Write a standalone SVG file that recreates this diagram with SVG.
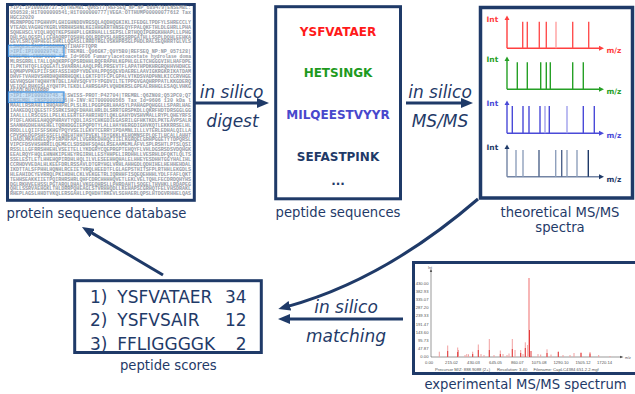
<svg xmlns="http://www.w3.org/2000/svg" width="635" height="394" viewBox="0 0 635 394">
<defs>
<style>
.lbl{font-family:"DejaVu Sans","Verdana",sans-serif;font-size:13.2px;fill:#1f3a68;text-anchor:middle}
.ital{font-family:"DejaVu Sans","Verdana",sans-serif;font-size:17px;font-style:italic;fill:#1f3a68;text-anchor:middle}
.box{fill:#fff;stroke:#1f3a68;stroke-width:3}
.db{font-family:"Liberation Mono","DejaVu Sans Mono",monospace;font-size:5px;font-weight:bold;fill:#959aa4}
.hl{fill:#9fcaf0;fill-opacity:0.55;stroke:#3d8fe0;stroke-width:1.2}
.pep{font-family:"DejaVu Sans","Verdana",sans-serif;font-size:12px;font-weight:bold;text-anchor:middle}
.sc{font-family:"DejaVu Sans","Verdana",sans-serif;font-size:17px;fill:#1f3a68}
.ax{fill:none;stroke-width:1.4}
.tl{font-family:"DejaVu Sans","Verdana",sans-serif;font-size:7.5px;font-weight:bold}
.conn{fill:none;stroke:#1f3a68;stroke-width:3}
.ex{font-family:"Liberation Sans","Arial",sans-serif;font-size:4.2px;fill:#555}
.pk{stroke:#f2a0a0;stroke-width:1}
.pkd{stroke:#e23a3a;stroke-width:1}
</style>
<marker id="ah" viewBox="0 0 12 10" refX="3" refY="5" markerWidth="12" markerHeight="10" markerUnits="userSpaceOnUse" orient="auto">
<path d="M0,0 L12,5 L0,10 z" fill="#1f3a68"/>
</marker>
</defs>
<rect width="635" height="394" fill="#fff"/>

<g id="node-database">
<rect class="box" x="7.5" y="4.5" width="186.8" height="195.8"/>
<g class="db">
<text x="10" y="9.1" textLength="181" lengthAdjust="spacingAndGlyphs">&gt;IPI:IPI00029737.5|TREMBL:Q96ST7|REFSEQ_NP:NP_689479|ENSEMBL:</text>
<text x="10" y="14" textLength="181" lengthAdjust="spacingAndGlyphs">050538;H1T000000541;H1T000000777|VEGA:OTTHUMP00000077612 Tax</text>
<text x="10" y="18.9">HGC32020</text>
<text x="10" y="23.8" textLength="181" lengthAdjust="spacingAndGlyphs">MERNPPDGTPGHHVPLGHIGHNDDVRGSQLAQDHQGKIKLIFEDGLTPDFYLSHRECCLY</text>
<text x="10" y="28.7" textLength="181" lengthAdjust="spacingAndGlyphs">VTEADLVAGHGYKGRLVRRHHSHNLKGIHHGKRTHNSEQYFPALQKFTHLDLGHRLLPHA</text>
<text x="10" y="33.6" textLength="181" lengthAdjust="spacingAndGlyphs">SQHEHSCLVIQLHQQTKEPSHHPLLGKRHALLLSEPSLLRTHQQIPGRGKHHAPLLLPHG</text>
<text x="10" y="38.5" textLength="181" lengthAdjust="spacingAndGlyphs">DHLSALQGSPLLCEHAQRPTQSHHLQQLRDPVSLAHRSSRPGATHLLSSPLDQHLEEHKA</text>
<text x="10" y="43.4" textLength="181" lengthAdjust="spacingAndGlyphs">GEVLSRLQHPHEGLSHKLLQGASLLHHDTRGLVSKHPRSGLPHDLRALSEQHHRTGLVLS</text>
<text x="10" y="48.3">LSHQESLSAHPISGGHNQQTIHAFFTQPR</text>
<text x="10" y="53.2" textLength="181" lengthAdjust="spacingAndGlyphs">&gt;IPI:IPI00029742.1|TREMBL:Q96GK7;Q9Y5B0|REFSEQ_NP:NP_057128|</text>
<text x="10" y="58.1" textLength="181" lengthAdjust="spacingAndGlyphs">ENSEMBL:ENSP0000 Tax_Id=9606 Fumarylacetoacetate hydrolase doma</text>
<text x="10" y="63" textLength="181" lengthAdjust="spacingAndGlyphs">MLRSGRRLLTALLQAQKRPFQPSRDHHLRQFRAPHLKGPHLGLETCHGGGVIHLHAFDPE</text>
<text x="10" y="67.9" textLength="181" lengthAdjust="spacingAndGlyphs">TLPKTHTQFLEQGEATLSVARRALAAQLPRLPRSEVTFLAPATHPDKHRGRQHHVHDHCE</text>
<text x="10" y="72.8" textLength="181" lengthAdjust="spacingAndGlyphs">EQMHPVPKEPIIFSKFASSIHDPYVDEVALPPQSQEVDAERELAAVIGKRGKRIKATDAM</text>
<text x="10" y="77.7" textLength="181" lengthAdjust="spacingAndGlyphs">DHVFTVAHDVSHRDHQHRRHGQKLLGKTFDTFCPLGPALVTKDSVADPHNLKICCRVHGE</text>
<text x="10" y="82.6" textLength="181" lengthAdjust="spacingAndGlyphs">GEVHQSGHTHQHHYNTDELIAHVSQFVTFYPGDVILTETPPGVGAQHRPPATLKKGDERQ</text>
<text x="10" y="87.5" textLength="181" lengthAdjust="spacingAndGlyphs">VEIQGLRHKGSLAYQHTPLTEKDLLAHRSGAPLVQHDKRSLGPEALRHHGLESAQLVHKG</text>
<text x="10" y="92.4">GEGQLRHIVARRP</text>
<text x="10" y="97.3" textLength="181" lengthAdjust="spacingAndGlyphs">&gt;IPI:IPI00029745.4|SWISS-PROT:P42704|TREMBL:Q6ZN08;Q53PC0;Q7</text>
<text x="10" y="102.2" textLength="181" lengthAdjust="spacingAndGlyphs">ENSEMBL:ENSP0000026|H-INV:HIT000000565 Tax_Id=9606 130 kDa l</text>
<text x="10" y="107.1" textLength="181" lengthAdjust="spacingAndGlyphs">MAALLRSRAHLLRHQAHPRLPLSLRLLPGGPGRLHAASYLPAHAGPQHGGLLSPARLHAE</text>
<text x="10" y="112" textLength="181" lengthAdjust="spacingAndGlyphs">IAAKEDQIQEESTFSSRKISHQFDHAHLHRLDLSRRTGRSPKDLLQKRFHDTDRSGGLGG</text>
<text x="10" y="116.9" textLength="181" lengthAdjust="spacingAndGlyphs">IAALLLLRSCGSLLPELKLEERTEFAHRIHDTLQKLGAHYDVSHVMALLRYPLQHEYRFS</text>
<text x="10" y="121.8" textLength="181" lengthAdjust="spacingAndGlyphs">PTDFLAKHEEAHQQPHRAVTYQDLIASYCHKGDIEGASRILGFHKTKDLPKTEAVPSALR</text>
<text x="10" y="126.7" textLength="181" lengthAdjust="spacingAndGlyphs">SAANHGDHEHAEHELTQRHDGGIEPQPDTYLALLHAYHERGDIGHVKQTLEKKRRSELHL</text>
<text x="10" y="131.6" textLength="181" lengthAdjust="spacingAndGlyphs">RRDLLLQIIFSFSKHGYPQYVSEILEKVTCERRYIPDAMNLILLLVTERLEDHALQILLA</text>
<text x="10" y="136.5" textLength="181" lengthAdjust="spacingAndGlyphs">CPVSKEDGPSHFGSFFLQHEHTHHTPVEKLTDYGKKLKEHQMNSFPLQFTLHCALLAHHT</text>
<text x="10" y="141.4" textLength="181" lengthAdjust="spacingAndGlyphs">LHADLMKAHHEEQFPIRPHFAPLLVGRREDHHQCIIELKGHQELGRHPGGETYTDPQRSL</text>
<text x="10" y="146.3" textLength="181" lengthAdjust="spacingAndGlyphs">VIPCFDSVHSHRRILQEMECLSDSDHFSQAGLRSEAAMEMLAFVLSPLRSHTLPTSLQSI</text>
<text x="10" y="151.2" textLength="181" lengthAdjust="spacingAndGlyphs">RSSLLLGFRRSHHEHLVSEITELLYKDGRYCQEPRGPTEHQYFLVHLDGSRSDSVDQHGK</text>
<text x="10" y="156.1" textLength="181" lengthAdjust="spacingAndGlyphs">EEALRQYFHQLEHNHKIPEHEYRGIRHLLESYHHPELIRDHHLLVESRHLDFQKTLQLTS</text>
<text x="10" y="161" textLength="181" lengthAdjust="spacingAndGlyphs">SSELESTLETLHHEHQPIRDHLHQLILVLESEEHHQHALELHHEYESDHHTGGYHALIHL</text>
<text x="10" y="165.9" textLength="181" lengthAdjust="spacingAndGlyphs">CCRHDVVEDALHLKEEFDRLRSSAVLDTGRYHGLVRHLAHHGDLQDHIHELHEHHEHDAL</text>
<text x="10" y="170.8" textLength="181" lengthAdjust="spacingAndGlyphs">IKDTTALSFPHHLHQNHLRCEIETVRQLHEEDTFLGLAEPSTHITSFPLRTHHLEKGDLS</text>
<text x="10" y="175.7" textLength="181" lengthAdjust="spacingAndGlyphs">HLEAHIDCYEVRRQLPKIHDHLCKLVEKGETRLIQRHHFISQEQEHHHLYDLFFAFLQKT</text>
<text x="10" y="180.6" textLength="181" lengthAdjust="spacingAndGlyphs">TEHHSEAKKIIETPQIRHRSHRLQHFCDRCHHHHQVETLEKLVELTQHLFECDRDQHYHS</text>
<text x="10" y="185.5" textLength="181" lengthAdjust="spacingAndGlyphs">DGLRKHVEEHSSLPGTARQLDHALVKGEQHRSLLPHRDAHTLSQGELTHVHKLLRDAPEG</text>
<text x="10" y="190.4" textLength="181" lengthAdjust="spacingAndGlyphs">QHLLSSRVAEHGKLTHLDRRPQHEAGLSTVRHHQDLLKEHAPSLGRHQTFELVHSDRAKL</text>
<text x="10" y="195.3" textLength="181" lengthAdjust="spacingAndGlyphs">RHEPLAGSLHHDTVKQLERSGAHLLPQHDHTRKEVLSGHAERLQPSLHTDGVRHHELQAS</text>
</g>
<rect class="hl" x="8.5" y="45.3" width="55.5" height="11"/>
<rect class="hl" x="8.5" y="92" width="55.5" height="10.5"/>
<text class="lbl" x="96.5" y="218">protein sequence database</text>
</g>

<g id="node-peptides">
<rect class="box" x="275.7" y="6.7" width="124.8" height="192.1"/>
<text class="pep" x="338" y="36" fill="#ff1a1a">YSFVATAER</text>
<text class="pep" x="338" y="76.5" fill="#1e9a1e">HETSINGK</text>
<text class="pep" x="338" y="119" fill="#4848cc">MILQEESTVYYR</text>
<text class="pep" x="338" y="160.5" fill="#1f3a68">SEFASTPINK</text>
<text class="pep" x="338" y="185" fill="#1f3a68">...</text>
<text class="lbl" x="338" y="217">peptide sequences</text>
</g>

<g id="node-theoretical">
<rect x="480.5" y="7.5" width="152" height="190.5" fill="#fff" stroke="#1f3a68" stroke-width="3.5"/>
<g id="spec-red">
<path class="ax" stroke="#ff4040" d="M507,48.3 V19 M507,48.3 H600"/>
<path fill="#ff4040" d="M504.5,20 L507,15.5 L509.5,20 z M599,45.8 L604,48.3 L599,50.8 z"/>
<text class="tl" x="486.5" y="21.5" fill="#ff4040">Int</text>
<text class="tl" x="606.5" y="53.3" fill="#ff4040">m/z</text>
<g stroke="#ff5050" stroke-width="1.4">
<path d="M522.7,48.3V21.7M527.3,48.3V21.7M539.3,48.3V21.7M546.3,48.3V21.7M572.7,48.3V21.7M588.7,48.3V21.7"/>
<path stroke="#ffa0a0" d="M556,48.3V21.7"/>
</g>
</g>
<g id="spec-green">
<path class="ax" stroke="#26a026" d="M507,89.3 V60 M507,89.3 H600"/>
<path fill="#26a026" d="M504.5,61 L507,56.5 L509.5,61 z M599,86.8 L604,89.3 L599,91.8 z"/>
<text class="tl" x="486.5" y="61.5" fill="#26a026">Int</text>
<text class="tl" x="606.5" y="94.3" fill="#26a026">m/z</text>
<path stroke="#26a026" stroke-width="1.4" d="M517.3,89.3V62.3M527.3,89.3V62.3M540.7,89.3V62.3M546.3,89.3V62.3M550.3,89.3V62.3M572.7,89.3V62.3M583.3,89.3V62.3"/>
</g>
<g id="spec-blue">
<path class="ax" stroke="#4a4ad8" d="M507,133.3 V104 M507,133.3 H600"/>
<path fill="#4a4ad8" d="M504.5,105 L507,100.5 L509.5,105 z M599,130.8 L604,133.3 L599,135.8 z"/>
<text class="tl" x="486.5" y="105.5" fill="#4a4ad8">Int</text>
<text class="tl" x="606.5" y="138.3" fill="#4a4ad8">m/z</text>
<g stroke="#4a4ad8" stroke-width="1.4">
<path d="M512.3,133.3V106M523,133.3V106M529,133.3V106M540,133.3V106M549.3,133.3V106M583.3,133.3V106M594.3,133.3V106"/>
<path stroke="#a0a0ec" d="M545,133.3V106M567,133.3V106"/>
</g>
</g>
<g id="spec-navy">
<path class="ax" stroke="#7384a4" d="M507,176.7 V148 M507,176.7 H600"/>
<path fill="#1f3a68" d="M504.5,149 L507,144.5 L509.5,149 z"/>
<path fill="#1f3a68" d="M599,174.2 L604,176.7 L599,179.2 z"/>
<text class="tl" x="486.5" y="149.5" fill="#1f3a68">Int</text>
<text class="tl" x="606.5" y="181.7" fill="#1f3a68">m/z</text>
<g stroke="#8fa0bc" stroke-width="1.4">
<path d="M516,176.7V150M523,176.7V150M555.7,176.7V150M567,176.7V150M577,176.7V150"/>
<path stroke="#50658c" d="M539,176.7V150M561.7,176.7V150"/>
<path stroke="#1f3a68" d="M588.3,176.7V150"/>
</g>
</g>
<text class="lbl" x="560" y="217.3">theoretical MS/MS</text>
<text class="lbl" x="560" y="232">spectra</text>
</g>

<g id="node-experimental">
<rect class="box" x="413.5" y="262.5" width="232" height="111"/>
<path fill="none" stroke="#555" stroke-width="0.6" d="M431,270 V357 H622"/>
<path fill="#555" d="M429.8,272 L431,268.5 L432.2,272 z M620,355.8 L623.5,357 L620,358.2 z"/>
<g class="ex">
<text x="428" y="268.5" font-size="3.6">Int</text>
<text x="625" y="358.5" font-size="3.6">m/z</text>
<g text-anchor="end">
<text x="428.5" y="284.5">430.00</text>
<text x="428.5" y="292.7">382.93</text>
<text x="428.5" y="300.9">335.07</text>
<text x="428.5" y="309.1">287.20</text>
<text x="428.5" y="317.3">239.33</text>
<text x="428.5" y="325.5">191.47</text>
<text x="428.5" y="333.7">143.60</text>
<text x="428.5" y="341.9">95.73</text>
<text x="428.5" y="350.1">47.87</text>
<text x="428.5" y="358.3">0.00</text>
</g>
<g text-anchor="middle">
<text x="429" y="363.5">0.00</text>
<text x="451.5" y="363.5">215.02</text>
<text x="473.5" y="363.5">430.03</text>
<text x="495.5" y="363.5">645.05</text>
<text x="517.3" y="363.5">860.07</text>
<text x="539" y="363.5">1075.08</text>
<text x="561" y="363.5">1290.10</text>
<text x="583" y="363.5">1505.12</text>
<text x="604.6" y="363.5">1720.14</text>
</g>
<text x="435" y="371.2">Precursor M/Z: 888.9088 (2+)</text>
<text x="497" y="371.2">Resolution: 3.40</text>
<text x="533.5" y="371.2">Filename: CapLC4384.651.2.2.mgf</text>
</g>
<path class="pk" d="M439.3,357V351.7M447.7,357V345.5M457.7,357V347.5M458.5,357V350M465,357V355M466.8,357V354M468.5,357V354.3M472.7,357V351.7M478.3,357V344.5M481,357V354M484,357V355M489.3,357V339M494,357V355M500.3,357V350.5M503,357V354M507,357V355M509,357V353.5M512.3,357V339M515,357V350M520.7,357V350M523,357V354M525.3,357V342.3M527.7,357V345M538,357V354M540.7,357V354.5M547,357V349.3M551,357V354.5M558.3,357V351.3M563,357V355M570,357V355M574,357V353M581,357V352.3M590,357V352M598.7,357V355M610,357V356"/>
<path stroke="#f7b6b6" stroke-width="2" d="M529,357V278"/>
<path class="pkd" d="M529.5,357V330M447.7,357V351M457.7,357V352M472.7,357V354M478.3,357V350M489.3,357V350M512.3,357V349M525.3,357V348M547,357V353M558.3,357V352M581,357V353M590,357V353.5M531,357V351M520.7,357V353M500.3,357V354"/>
<text class="lbl" x="525.5" y="389">experimental MS/MS spectrum</text>
</g>

<g id="node-scores">
<rect class="box" x="74.7" y="280.7" width="186.6" height="71.8"/>
<text class="sc" x="90" y="303.3">1)</text>
<text class="sc" x="117.3" y="303.3">YSFVATAER</text>
<text class="sc" x="246.7" y="303.3" text-anchor="end">34</text>
<text class="sc" x="90" y="326.3">2)</text>
<text class="sc" x="117.3" y="326.3">YSFVSAIR</text>
<text class="sc" x="246.7" y="326.3" text-anchor="end">12</text>
<text class="sc" x="90" y="349.8">3)</text>
<text class="sc" x="117.3" y="349.8">FFLIGGGGK</text>
<text class="sc" x="246.7" y="349.8" text-anchor="end">2</text>
<text class="lbl" x="168.3" y="370">peptide scores</text>
</g>

<g id="connectors">
<line class="conn" x1="193" y1="103" x2="260" y2="103" marker-end="url(#ah)"/>
<line class="conn" x1="406" y1="103" x2="464" y2="103" marker-end="url(#ah)"/>
<path class="conn" d="M478,199 Q384,280 287,306.6" marker-end="url(#ah)"/>
<line class="conn" x1="403" y1="319" x2="287" y2="319" marker-end="url(#ah)"/>
<line class="conn" x1="163" y1="275" x2="89.7" y2="231.6" marker-end="url(#ah)"/>
</g>

<g id="edge-labels">
<text class="ital" x="231.5" y="98.3">in silico</text>
<text class="ital" x="232.5" y="126.5">digest</text>
<text class="ital" x="440" y="98.3">in silico</text>
<text class="ital" x="440" y="126.5">MS/MS</text>
<text class="ital" x="346" y="313.3">in silico</text>
<text class="ital" x="346" y="341.7">matching</text>
</g>
</svg>
